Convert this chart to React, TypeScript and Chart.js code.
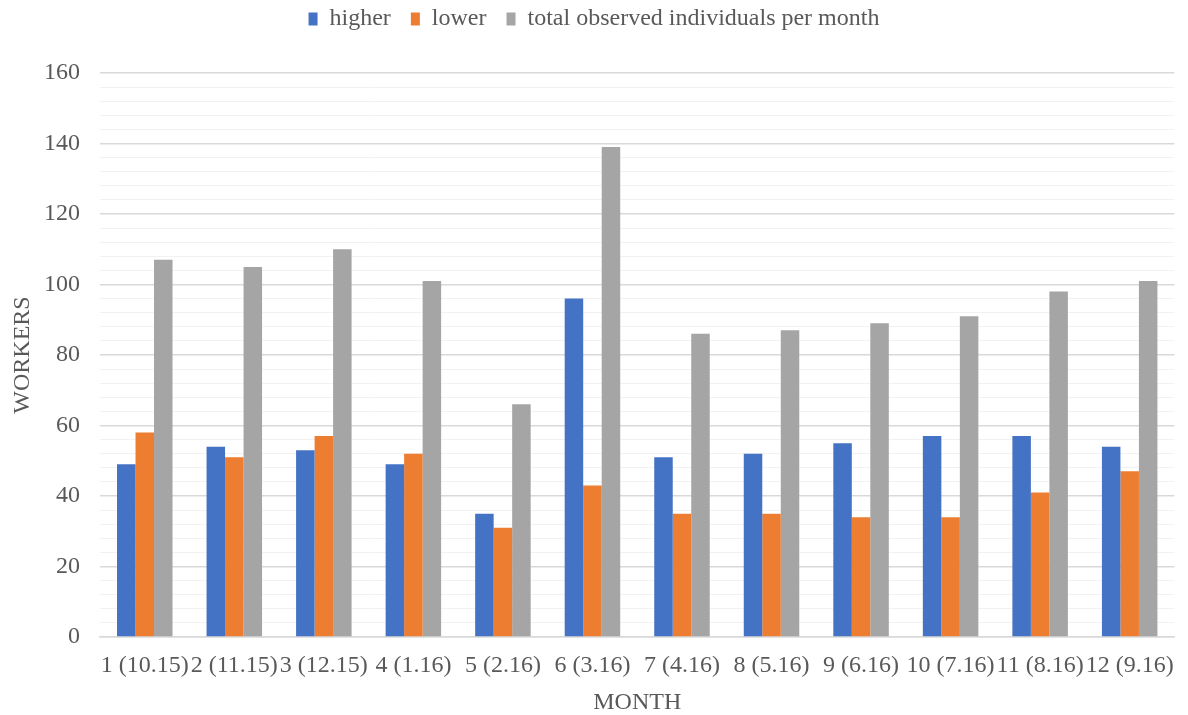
import React, { useEffect, useRef } from "react";
import { Chart, registerables } from "chart.js";

Chart.register(...registerables);

const categories = [
  "1 (10.15)", "2 (11.15)", "3 (12.15)", "4 (1.16)", "5 (2.16)", "6 (3.16)",
  "7 (4.16)", "8 (5.16)", "9 (6.16)", "10 (7.16)", "11 (8.16)", "12 (9.16)",
];
const higher = [49, 54, 53, 49, 35, 96, 51, 52, 55, 57, 57, 54];
const lower = [58, 51, 57, 52, 31, 43, 35, 35, 34, 34, 41, 47];
const total = [107, 105, 110, 101, 66, 139, 86, 87, 89, 91, 98, 101];

const FONT = "'Liberation Serif', 'Times New Roman', serif";
const TEXT = "#595959";
const FS = 24;

const legendHeight = {
  id: "legendHeight",
  beforeInit(chart: any) {
    const legend = chart.legend;
    if (!legend) return;
    const origFit = legend.fit;
    legend.fit = function () {
      origFit.bind(legend)();
      legend.height = 86;
    };
  },
};

export default function App() {
  const ref = useRef<HTMLCanvasElement | null>(null);
  useEffect(() => {
    if (!ref.current) return;
    const chart = new Chart(ref.current, {
      type: "bar",
      data: {
        labels: categories,
        datasets: [
          { label: "higher", data: higher, backgroundColor: "#4472C4" },
          { label: "lower", data: lower, backgroundColor: "#ED7D31" },
          { label: "total observed individuals per month", data: total, backgroundColor: "#A5A5A5" },
        ],
      },
      plugins: [legendHeight],
      options: {
        animation: false,
        responsive: false,
        maintainAspectRatio: false,
        layout: { padding: { left: 8, right: 8, top: -13, bottom: 0 } },
        datasets: { bar: { categoryPercentage: 0.62, barPercentage: 1.0 } },
        plugins: {
          tooltip: { enabled: false },
          legend: {
            position: "top",
            labels: {
              boxWidth: 9,
              boxHeight: 13,
              color: TEXT,
              font: { family: FONT, size: FS },
              padding: 20,
            },
          },
        },
        scales: {
          x: {
            grid: { display: false, drawTicks: false },
            border: { color: "#d9d9d9", width: 1.5 },
            ticks: { color: TEXT, font: { family: FONT, size: FS }, maxRotation: 0, autoSkip: false, padding: 14 },
            title: { display: true, text: "MONTH", color: TEXT, font: { family: FONT, size: FS, lineHeight: 1 }, padding: { top: 0, bottom: 0 } },
            afterFit: (s: any) => { s.height = 78; },
          },
          y: {
            min: 0,
            max: 160,
            grid: {
              color: (ctx: any) => (ctx.tick && ctx.tick.value % 20 === 0 ? "#d9d9d9" : "#f2f2f2"),
              lineWidth: (ctx: any) => (ctx.tick && ctx.tick.value % 20 === 0 ? 1.5 : 1),
              drawTicks: false,
            },
            border: { display: false },
            ticks: {
              stepSize: 4,
              color: TEXT,
              font: { family: FONT, size: FS },
              padding: 20,
              autoSkip: false,
              callback: (v: any) => (Number(v) % 20 === 0 ? String(v) : ""),
            },
            title: { display: true, text: "WORKERS", color: TEXT, font: { family: FONT, size: FS }, padding: { top: 0, bottom: 0 } },
            afterFit: (s: any) => { s.width = 92; },
          },
        },
      },
    });
    return () => chart.destroy();
  }, []);
  return (
    <div style={{ position: "absolute", left: 0, top: 0, width: 1188, height: 715, background: "#fff" }}>
      <canvas ref={ref} width={1188} height={715} style={{ width: 1188, height: 715 }} />
    </div>
  );
}
